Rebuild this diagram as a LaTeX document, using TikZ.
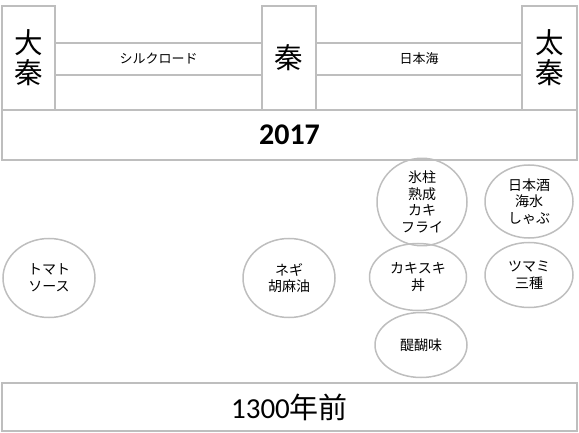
\documentclass[tikz,border=0pt]{standalone}
\usepackage{fontspec}
\setmainfont{Noto Sans CJK JP}
\newfontfamily\numfont{Carlito}
\usetikzlibrary{shapes}
\definecolor{linegray}{RGB}{190,190,190}
\tikzset{
  frame/.style={draw=linegray,line width=1.5pt,inner sep=0pt},
  dish/.style={draw=linegray,line width=1.5pt,ellipse,inner sep=0pt,align=center,
    font=\fontsize{14}{16.5}\selectfont},
  big/.style={font=\fontsize{28.5}{30}\selectfont,align=center}
}
\begin{document}
\begin{tikzpicture}[x=1pt,y=-1pt]
\useasboundingbox (0,0) rectangle (579,433);
\node[frame,big,minimum width=53,minimum height=104] (daiqin) at (28.5,58) {大\\秦};
\node[frame,big,minimum width=54,minimum height=104] (qin) at (289,58) {秦};
\node[frame,big,minimum width=55,minimum height=104] (uzumasa) at (549.5,58) {太\\秦};
\node[frame,minimum width=207,minimum height=32,font=\fontsize{13}{15}\selectfont] (silk) at (158.5,59) {シルクロード};
\node[frame,minimum width=206,minimum height=32,font=\fontsize{13}{15}\selectfont] (sea) at (419,59) {日本海};
\node[frame,minimum width=575,minimum height=50,font=\numfont\bfseries\fontsize{30}{32}\selectfont] (now) at (289.5,135) {2017};
\node[frame,minimum width=575,minimum height=48,font=\fontsize{29}{31}\selectfont] (past) at (289.5,407) {{\numfont 1300}年前};
\node[dish,minimum width=90,minimum height=80] (oyster) at (422,202) {氷柱\\熟成\\カキ\\フライ};
\node[dish,minimum width=88,minimum height=73] (shabu) at (529,201.5) {日本酒\\海水\\しゃぶ};
\node[dish,minimum width=97,minimum height=67] (sukiyaki) at (418,277) {カキスキ\\丼};
\node[dish,minimum width=88,minimum height=65] (tsumami) at (529,275) {ツマミ\\三種};
\node[dish,minimum width=92,minimum height=65] (daigomi) at (421,345) {醍醐味};
\node[dish,minimum width=92,minimum height=79] (tomato) at (49,278) {トマト\\ソース};
\node[dish,minimum width=92,minimum height=79] (negi) at (289,278) {ネギ\\胡麻油};
\end{tikzpicture}
\end{document}
